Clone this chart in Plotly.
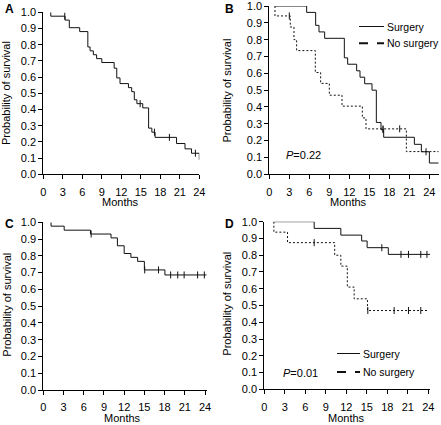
import plotly.graph_objects as go

W, H = 441, 425

# ---------------- data ----------------
x_ticks = [0, 3, 6, 9, 12, 15, 18, 21, 24]
y_ticks = [0.0, 0.1, 0.2, 0.3, 0.4, 0.5, 0.6, 0.7, 0.8, 0.9, 1.0]

# Panel A - all patients
a_start, a_end = 1.15, 24.0
a_times = [1.15, 3.35, 4.0, 5.6, 6.85, 7.2, 7.7, 8.2, 9.0, 10.9, 11.3, 11.8,
           13.1, 13.6, 14.0, 14.4, 15.3, 16.2, 16.7, 17.2, 20.5, 21.8, 22.8, 24.0]
a_surv = [0.976, 0.952, 0.905, 0.881, 0.786, 0.762, 0.738, 0.714, 0.69, 0.655, 0.595, 0.56,
          0.535, 0.51, 0.46, 0.436, 0.41, 0.285, 0.26, 0.228, 0.19, 0.157, 0.13, 0.09]
a_cens = [3.3, 14.9, 17.1, 19.4, 23.4]

# Panel B - surgery vs no surgery
b_s_start, b_s_end = 0.85, 25.4
b_s_times = [5.6, 6.95, 7.45, 8.3, 11.25, 11.75, 13.1, 13.6, 14.3, 15.4, 16.05, 16.75,
             17.15, 21.75, 22.8, 24.0]
b_s_surv = [0.962, 0.885, 0.846, 0.808, 0.692, 0.654, 0.615, 0.577, 0.538, 0.5, 0.308, 0.265,
            0.22, 0.178, 0.134, 0.067]
b_s_cens = [17.05, 23.5]

b_n_start, b_n_end = 0.85, 25.4
b_n_times = [0.85, 3.15, 3.7, 4.1, 6.9, 7.7, 9.0, 10.9, 13.95, 14.5, 20.55]
b_n_surv = [0.941, 0.875, 0.80, 0.735, 0.605, 0.54, 0.47, 0.405, 0.335, 0.27, 0.135]
b_n_cens = [3.0, 17.05, 19.55]
b_pvalue = "0.22"

# Panel C - all patients
c_start, c_end = 1.15, 24.25
c_times = [1.15, 3.1, 7.0, 10.05, 11.0, 12.0, 13.0, 14.0, 15.0, 18.05]
c_surv = [0.977, 0.953, 0.93, 0.907, 0.86, 0.814, 0.791, 0.767, 0.716, 0.686]
c_cens = [7.1, 15.05, 17.1, 18.9, 19.95, 20.9, 22.9, 23.9]

# Panel D - surgery vs no surgery
d_s_start, d_s_end = 1.4, 24.25
d_s_times = [7.3, 11.2, 14.25, 15.05, 18.15]
d_s_surv = [0.96, 0.92, 0.885, 0.845, 0.805]
d_s_cens = [17.2, 20.0, 21.1, 22.9, 23.8]

d_n_start, d_n_end = 1.4, 24.1
d_n_times = [1.4, 3.4, 10.3, 11.2, 12.15, 13.15, 15.1]
d_n_surv = [0.9375, 0.875, 0.80, 0.735, 0.61, 0.54, 0.47]
d_n_cens = [7.3, 15.15, 19.0, 21.1, 22.9]
d_pvalue = "0.01"

legend_labels = ["Surgery", "No surgery"]
panel_letters = ["A", "B", "C", "D"]

# ---------------- helpers ----------------
FONT = "Liberation Sans, Arial, Helvetica, sans-serif"
INK = "#111111"
FS = 11


def step_xy(start, times, surv, end):
    x = [start] + list(times) + [end]
    y = [1.0] + list(surv) + [surv[-1]]
    return x, y


def surv_at(t, times, surv):
    v = 1.0
    for ti, si in zip(times, surv):
        if ti <= t:
            v = si
    return v


fig = go.Figure()


def add_curve(start, times, surv, end, cens, xa, ya, dash):
    x, y = step_xy(start, times, surv, end)
    fig.add_trace(go.Scatter(x=x, y=y, mode="lines", line_shape="hv",
                             line=dict(color=INK, width=1, dash=dash),
                             xaxis=xa, yaxis=ya, showlegend=False, hoverinfo="skip"))
    fig.add_trace(go.Scatter(x=cens, y=[surv_at(t, times, surv) for t in cens], mode="markers",
                             marker=dict(symbol="line-ns", size=5,
                                         line=dict(color=INK, width=1)),
                             xaxis=xa, yaxis=ya, showlegend=False, hoverinfo="skip"))


DOT = "2px,2px"
add_curve(a_start, a_times, a_surv, a_end, a_cens, "x", "y", "solid")
add_curve(b_s_start, b_s_times, b_s_surv, b_s_end, b_s_cens, "x2", "y2", "solid")
add_curve(b_n_start, b_n_times, b_n_surv, b_n_end, b_n_cens, "x2", "y2", DOT)
add_curve(c_start, c_times, c_surv, c_end, c_cens, "x3", "y3", "solid")
add_curve(d_s_start, d_s_times, d_s_surv, d_s_end, d_s_cens, "x4", "y4", "solid")
add_curve(d_n_start, d_n_times, d_n_surv, d_n_end, d_n_cens, "x4", "y4", DOT)


def dx(x0, x1):
    return [x0 / W, x1 / W]


def dy(top, bottom):
    return [1 - bottom / H, 1 - top / H]


axis_common = dict(showline=True, linecolor="black", linewidth=1, ticks="outside",
                   ticklen=4, tickwidth=1, tickcolor="black", showgrid=False,
                   zeroline=False, tickfont=dict(family=FONT, size=FS, color="black"),
                   fixedrange=True, automargin=False, ticklabeloverflow="allow")

panels = [
    ("xaxis", "yaxis", (43.3, 199.3), (12.3, 174.3), 24.0, "y", "x"),
    ("xaxis2", "yaxis2", (269.3, 438.7), (6.0, 174.3), 25.4, "y2", "x2"),
    ("xaxis3", "yaxis3", (43.3, 206.7), (222.3, 390.0), 24.25, "y3", "x3"),
    ("xaxis4", "yaxis4", (264.3, 430.0), (221.7, 389.3), 24.25, "y4", "x4"),
]
layout = dict(width=W, height=H, margin=dict(l=0, r=0, t=0, b=0, pad=0),
              paper_bgcolor="white", plot_bgcolor="white",
              font=dict(family=FONT, size=FS, color="black"), showlegend=False)
for xn, yn, xd, yd, xmax, yref, xref in panels:
    layout[xn] = dict(axis_common, domain=dx(*xd), range=[0, xmax], anchor=yref,
                      tickvals=x_ticks, ticktext=[str(v) for v in x_ticks],
                      ticklabelstandoff=3)
    layout[yn] = dict(axis_common, domain=dy(*yd), range=[0, 1], anchor=xref,
                      tickvals=y_ticks, ticktext=[f"{v:.1f}" for v in y_ticks])
fig.update_layout(**layout)

ann = []
shapes = []


def paper(xpx, ypx):
    return xpx / W, 1 - ypx / H


def text(xpx, ypx, s, size=FS, xanchor="center", yanchor="middle", angle=0, bold=False):
    x, y = paper(xpx, ypx)
    ann.append(dict(x=x, y=y, xref="paper", yref="paper", text=f"<b>{s}</b>" if bold else s,
                    showarrow=False, xanchor=xanchor, yanchor=yanchor, textangle=angle,
                    font=dict(family=FONT, size=size, color="black")))


# panel letters
for (lx, ly), s in zip([(3, 0), (223, 0), (3, 215), (223, 215)], panel_letters):
    text(lx, ly, s, size=12, xanchor="left", yanchor="top", bold=True)

# axis titles
for cx, cy in [(6, 93), (226.5, 91), (6.7, 305), (226.7, 304)]:
    text(cx, cy, "Probability of survival", angle=-90)
for cx, cy in [(120, 201.5), (348.5, 201.5), (122, 418), (346, 418)]:
    text(cx, cy, "Months")

# p-values
text(284, 154.5, f"<i>P</i>={b_pvalue}", xanchor="left")
text(281, 372.5, f"<i>P</i>={d_pvalue}", xanchor="left")


# legends
def legend(x0, x1, y_solid, y_dash):
    for yy, dash, wid, lab in [(y_solid, "solid", 1, legend_labels[0]),
                               (y_dash, "dash", 2, legend_labels[1])]:
        xa, ya = paper(x0, yy)
        xb, _ = paper(x1, yy)
        shapes.append(dict(type="line", xref="paper", yref="paper", x0=xa, x1=xb, y0=ya, y1=ya,
                           line=dict(color=INK, width=wid, dash=dash)))
        text(x1 + 1, yy, lab, size=10.5, xanchor="left")


legend(359, 384, 26.5, 43.3)
legend(337, 360, 353.5, 372)

fig.update_layout(annotations=ann, shapes=shapes)
fig.write_html("out.html", config={"displayModeBar": False},
               post_script="document.body.style.margin='0';document.body.style.padding='0';")
